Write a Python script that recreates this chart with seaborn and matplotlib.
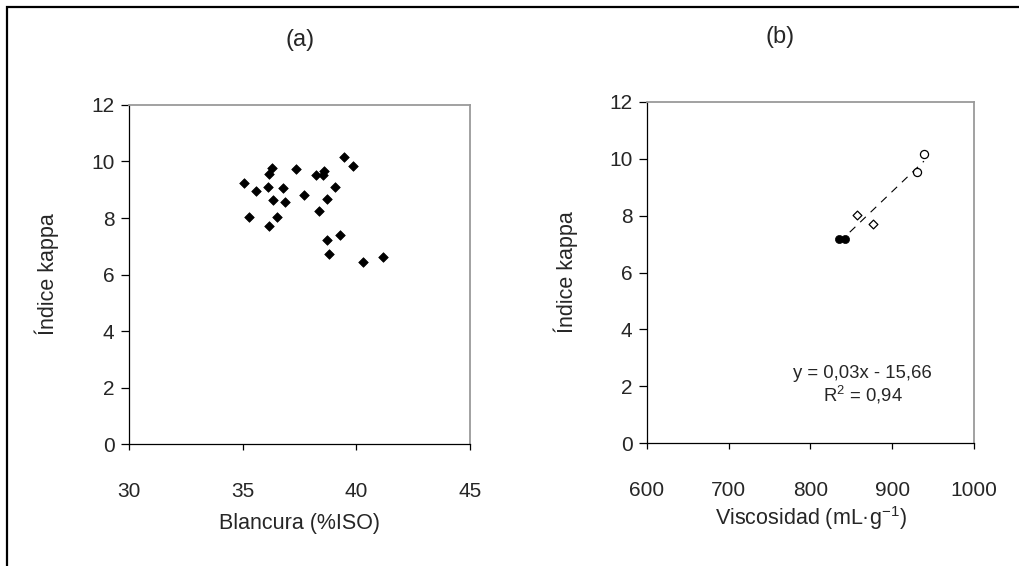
import numpy as np
import pandas as pd
import seaborn as sns
import matplotlib
matplotlib.use("Agg")
import matplotlib.pyplot as plt
from matplotlib.patches import Rectangle

# (a) kappa number vs. brightness
blancura = [35.06, 35.59, 36.28, 36.14, 36.13, 36.78, 37.33, 36.35, 36.86, 37.71,
            38.21, 38.56, 38.55, 39.46, 39.87, 39.08, 38.73, 38.37, 35.26, 36.51,
            36.14, 39.28, 38.69, 38.80, 40.28, 41.16]
kappa_a = [9.25, 8.96, 9.77, 9.56, 9.11, 9.07, 9.75, 8.65, 8.55, 8.83,
           9.51, 9.65, 9.51, 10.16, 9.85, 9.10, 8.67, 8.26, 8.02, 8.03,
           7.73, 7.41, 7.21, 6.73, 6.44, 6.63]

# (b) kappa number vs. viscosity, three groups of samples
visc_llenos = [835.3, 842.2]
kappa_llenos = [7.18, 7.17]
visc_rombos = [857.3, 876.1]
kappa_rombos = [8.01, 7.72]
visc_circulos = [929.9, 938.8]
kappa_circulos = [9.54, 10.16]

x_ticks_a = [30, 35, 40, 45]
x_ticks_b = [600, 700, 800, 900, 1000]
y_ticks = [0, 2, 4, 6, 8, 10, 12]

sns.set_style("white")
plt.rcParams["font.family"] = ["Liberation Sans", "DejaVu Sans"]
plt.rcParams["mathtext.fontset"] = "custom"
plt.rcParams["mathtext.rm"] = "Liberation Sans"
plt.rcParams["mathtext.it"] = "Liberation Sans:italic"
plt.rcParams["mathtext.bf"] = "Liberation Sans:bold"

fig = plt.figure(figsize=(10.19, 5.66), dpi=100)
fig.patch.set_facecolor("white")

ax_a = fig.add_axes([0.1266, 0.2155, 0.3346, 0.599])
ax_b = fig.add_axes([0.6349, 0.2173, 0.3209, 0.6025])

# panel (a)
sns.scatterplot(x=blancura, y=kappa_a, marker="D", s=24, color="black",
                edgecolor="black", linewidth=0.5, ax=ax_a, zorder=3)

# panel (b): linear fit through all samples, then the three groups
visc_all = visc_llenos + visc_rombos + visc_circulos
kappa_all = kappa_llenos + kappa_rombos + kappa_circulos
sns.regplot(x=visc_all, y=kappa_all, scatter=False, ci=None, ax=ax_b,
            line_kws=dict(color="black", lw=0.8, ls=(0, (7, 6)), zorder=2))
sns.scatterplot(x=visc_llenos, y=kappa_llenos, marker="o", s=34, color="black",
                edgecolor="black", linewidth=0.5, ax=ax_b, zorder=3)
sns.scatterplot(x=visc_rombos, y=kappa_rombos, marker="D", s=20, color="white",
                edgecolor="black", linewidth=0.9, ax=ax_b, zorder=3)
sns.scatterplot(x=visc_circulos, y=kappa_circulos, marker="o", s=34, color="white",
                edgecolor="black", linewidth=0.9, ax=ax_b, zorder=3)

ax_b.text(864, 2.46, "y = 0,03x - 15,66", ha="center", va="center", fontsize=13.3)
ax_b.text(864, 1.69, "R$^{2}$ = 0,94", ha="center", va="center", fontsize=13.3)


def style_axes(ax, xlim, xticks, xlabel, xlab_y, ylab_x):
    ax.set_xlim(*xlim)
    ax.set_ylim(0, 12)
    ax.set_xticks(xticks)
    ax.set_yticks(y_ticks)
    ax.set_xticklabels([str(t) for t in xticks])
    ax.set_yticklabels([str(t) for t in y_ticks])
    ax.set_facecolor("white")
    for side in ("left", "bottom"):
        ax.spines[side].set_color("black")
        ax.spines[side].set_linewidth(0.9)
    for side in ("top", "right"):
        ax.spines[side].set_visible(True)
        ax.spines[side].set_color("#9a9a9a")
        ax.spines[side].set_linewidth(1.3)
    ax.tick_params(axis="x", direction="out", length=4.5, width=0.9,
                   color="black", pad=23, labelsize=15, bottom=True)
    ax.tick_params(axis="y", direction="out", length=5.5, width=0.9,
                   color="black", pad=5, labelsize=15, left=True)
    ax.set_xlabel(xlabel, fontsize=15.5, va="center")
    ax.set_ylabel("Índice kappa", fontsize=15.5, va="center")
    ax.xaxis.set_label_coords(0.5, xlab_y)
    ax.yaxis.set_label_coords(ylab_x, 0.5)
    ax.grid(False)


style_axes(ax_a, (30, 45), x_ticks_a, "Blancura (%ISO)", -0.233, -0.24)
style_axes(ax_b, (600, 1000), x_ticks_b,
           "Viscosidad (mL·g$^{\\mathregular{-1}}$)", -0.22, -0.248)

fig.text(300 / 1019, 1 - 40 / 566, "(a)", ha="center", va="center", fontsize=17)
fig.text(780 / 1019, 1 - 37 / 566, "(b)", ha="center", va="center", fontsize=17)

# outer frame around both panels
fig.add_artist(Rectangle((6.5 / 1019, -0.1), 1.2, 1 - 6.5 / 566 + 0.1,
                         transform=fig.transFigure, fill=False,
                         edgecolor="black", linewidth=1.6, clip_on=False))

fig.savefig("out.png", dpi=100, facecolor="white")
